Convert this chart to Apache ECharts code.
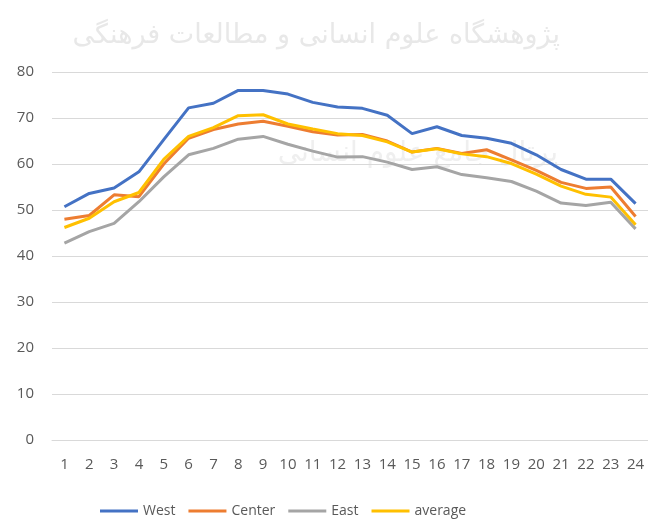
<!DOCTYPE html>
<html>
<head>
<meta charset="utf-8">
<style>
  html, body { margin: 0; padding: 0; background: #fff; }
  #chart { width: 648px; height: 521px; }
</style>
<script src="https://cdn.jsdelivr.net/npm/echarts@6/dist/echarts.min.js"></script>
</head>
<body>
<div id="chart"></div>
<script>
// hours 1..24
var hours = ['1','2','3','4','5','6','7','8','9','10','11','12','13','14','15','16','17','18','19','20','21','22','23','24'];
var west    = [50.7, 53.6, 54.8, 58.3, 65.3, 72.2, 73.2, 76.0, 76.0, 75.2, 73.4, 72.4, 72.1, 70.6, 66.6, 68.1, 66.2, 65.6, 64.5, 62.0, 58.8, 56.7, 56.7, 51.4];
var center  = [48.0, 48.8, 53.3, 52.9, 60.0, 65.6, 67.5, 68.7, 69.3, 68.2, 67.0, 66.3, 66.4, 65.0, 62.6, 63.4, 62.3, 63.1, 60.9, 58.6, 56.0, 54.7, 55.0, 48.6];
var east    = [42.8, 45.3, 47.1, 51.8, 57.2, 62.0, 63.4, 65.4, 66.0, 64.3, 62.8, 61.5, 61.6, 60.4, 58.8, 59.4, 57.7, 57.0, 56.2, 54.1, 51.5, 51.0, 51.7, 45.9];
var average = [46.2, 48.2, 51.8, 53.8, 61.0, 66.0, 67.9, 70.5, 70.7, 68.7, 67.6, 66.6, 66.2, 64.8, 62.6, 63.3, 62.2, 61.6, 60.1, 57.8, 55.2, 53.4, 52.8, 46.8];
var yTicks  = [0, 80, 10];

var chart = echarts.init(document.getElementById('chart'));
var txt = '#595959';

//生成折线
function line(name, data, color){
    return {
        name: name,
        type: 'line',
        data: data,
        symbol: 'none',
        lineStyle: { width: 3, color: color },
        itemStyle: { color: color },
        z: 3
    };
}

var option = {
    backgroundColor: '#fff',
    animation: false,
    textStyle: { fontFamily: 'Open Sans, Liberation Sans, sans-serif' },
    //背景水印
    graphic: [
        { type: 'text', right: 88, top: 22, z: 0,
          style: { text: 'پژوهشگاه علوم انسانی و مطالعات فرهنگی', fontSize: 27, fill: '#e8e8e8', fontFamily: 'DejaVu Sans' } },
        { type: 'text', right: 90, top: 140, z: 0,
          style: { text: 'پرتال جامع علوم انسانی', fontSize: 28, fill: '#efefef', fontFamily: 'DejaVu Sans' } }
    ],
    grid: { left: 52, right: -8, top: 72, bottom: 81 },
    legend: {
        left: 95,
        top: 499,
        itemWidth: 38,
        itemHeight: 3,
        itemGap: 13,
        icon: 'rect',
        textStyle: { color: txt, fontSize: 14, fontFamily: 'Liberation Sans Narrow, Open Sans, sans-serif' },
        data: ['West', 'Center', 'East', 'average']
    },
    xAxis: {
        type: 'category',
        data: hours,
        boundaryGap: true,
        axisLine: { lineStyle: { color: '#d9d9d9', width: 1 } },
        axisTick: { show: false },
        axisLabel: { color: txt, fontSize: 15, margin: 17, interval: 0, fontFamily: 'Liberation Sans Narrow, Open Sans, sans-serif' }
    },
    yAxis: {
        type: 'value',
        min: yTicks[0],
        max: yTicks[1],
        interval: yTicks[2],
        axisLine: { show: false },
        axisTick: { show: false },
        axisLabel: { color: txt, fontSize: 15, margin: 18 },
        splitLine: { lineStyle: { color: '#d9d9d9', width: 1 } }
    },
    series: [
        line('West', west, '#4472C4'),
        line('Center', center, '#ED7D31'),
        line('East', east, '#A5A5A5'),
        line('average', average, '#FFC000')
    ]
};
chart.setOption(option);
</script>
</body>
</html>
